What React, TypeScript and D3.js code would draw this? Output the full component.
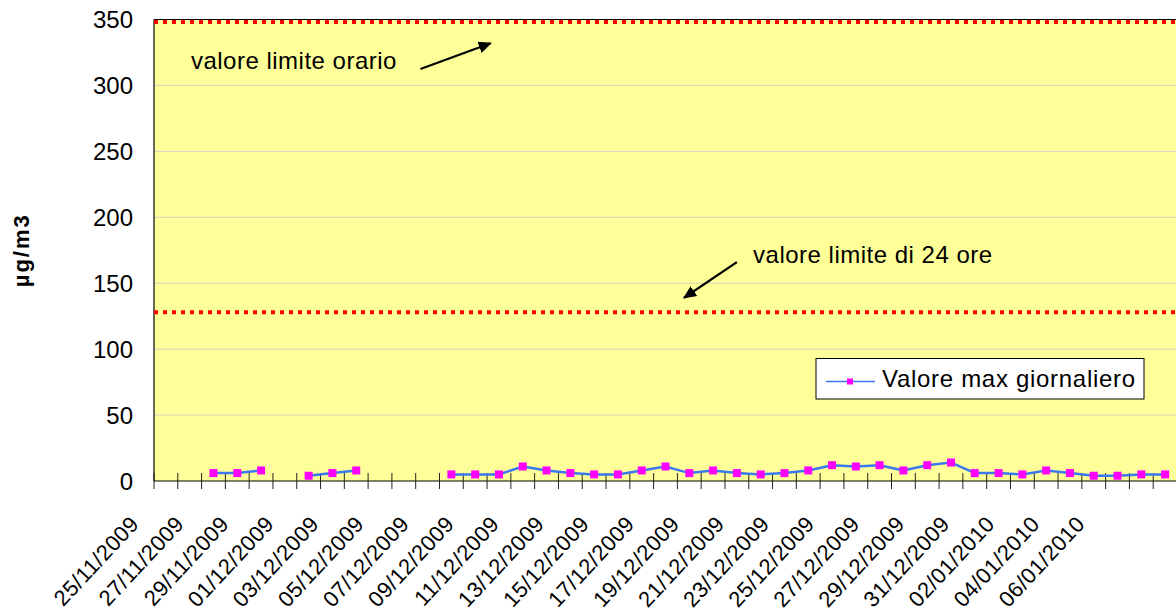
import React from 'react';
import * as d3 from 'd3';

const categories: string[] = [
  '25/11/2009', '26/11/2009', '27/11/2009', '28/11/2009', '29/11/2009', '30/11/2009',
  '01/12/2009', '02/12/2009', '03/12/2009', '04/12/2009', '05/12/2009', '06/12/2009',
  '07/12/2009', '08/12/2009', '09/12/2009', '10/12/2009', '11/12/2009', '12/12/2009',
  '13/12/2009', '14/12/2009', '15/12/2009', '16/12/2009', '17/12/2009', '18/12/2009',
  '19/12/2009', '20/12/2009', '21/12/2009', '22/12/2009', '23/12/2009', '24/12/2009',
  '25/12/2009', '26/12/2009', '27/12/2009', '28/12/2009', '29/12/2009', '30/12/2009',
  '31/12/2009', '01/01/2010', '02/01/2010', '03/01/2010', '04/01/2010', '05/01/2010',
  '06/01/2010',
];

const maxValues: (number | null)[] = [
  null, null, 6, 6, 8, null, 4, 6, 8, null, null, null,
  5, 5, 5, 11, 8, 6, 5, 5, 8, 11, 6, 8,
  6, 5, 6, 8, 12, 11, 12, 8, 12, 14, 6, 6,
  5, 8, 6, 4, 4, 5, 5,
];

const tickLabels: string[] = [
  '25/11/2009', '27/11/2009', '29/11/2009', '01/12/2009', '03/12/2009', '05/12/2009',
  '07/12/2009', '09/12/2009', '11/12/2009', '13/12/2009', '15/12/2009', '17/12/2009',
  '19/12/2009', '21/12/2009', '23/12/2009', '25/12/2009', '27/12/2009', '29/12/2009',
  '31/12/2009', '02/01/2010', '04/01/2010', '06/01/2010',
];

const yTicks: number[] = [0, 50, 100, 150, 200, 250, 300, 350];
const hourlyLimit = 350;
const dailyLimit = 128;
const seriesName = 'Valore max giornaliero';
const yTitle = 'µg/m3';

// annotations in data units (category index, value)
const annotations = [
  { text: 'valore limite orario', tx: 1.55, ty: 312.5, from: [11.2, 312.5], to: [14.15, 332] },
  { text: 'valore limite di 24 ore', tx: 25.18, ty: 165.3, from: [24.5, 166], to: [22.28, 139] },
];

const FONT = "'Liberation Sans', Arial, sans-serif";

export default function App() {
  const W = 1176;
  const H = 616;
  const left = 154;
  const right = 1177;
  const top = 19.5;
  const bottom = 481;

  const x = d3.scaleBand<string>().domain(categories).range([left, right]).padding(0);
  const xIdx = d3.scaleLinear().domain([0, categories.length]).range([left, right]);
  const y = d3.scaleLinear().domain([0, 350]).range([bottom, top]);
  const labelX = d3.scalePoint<string>().domain(tickLabels).range([140, 1086]);

  const pts = categories.map((c, i) => ({ c, v: maxValues[i] }));
  const line = d3
    .line<{ c: string; v: number | null }>()
    .defined((d) => d.v != null)
    .x((d) => (x(d.c) as number) + x.bandwidth() / 2)
    .y((d) => y(d.v as number));

  const boundaries = d3.range(categories.length + 1);

  return (
    <div style={{ position: 'absolute', left: 0, top: 0 }}>
      <svg width={W} height={H} style={{ display: 'block', background: '#ffffff' }}>
        <defs>
          <marker id="ah" viewBox="0 0 10 10" refX="9" refY="5" markerWidth="6" markerHeight="6" orient="auto" markerUnits="strokeWidth">
            <path d="M0,0.5 L10,5 L0,9.5 z" fill="#000" />
          </marker>
        </defs>
        {/* plot background */}
        <rect x={left} y={top} width={right - left} height={bottom - top} fill="#FFFF99" />
        {/* gridlines */}
        {yTicks.filter((t) => t > 0 && t < 350).map((t) => (
          <line key={t} x1={left} x2={right} y1={y(t)} y2={y(t)} stroke="#d2d2bc" strokeWidth={1} />
        ))}
        {/* plot border top & left */}
        <line x1={left} x2={right} y1={top} y2={top} stroke="#000" strokeWidth={1.2} />
        <line x1={left} x2={left} y1={top} y2={bottom} stroke="#000" strokeWidth={1.2} />
        {/* limit lines */}
        {[hourlyLimit, dailyLimit].map((v) => (
          <line key={v} x1={left} x2={right} y1={y(v) + (v === 350 ? 2.5 : 0)} y2={y(v) + (v === 350 ? 2.5 : 0)} stroke="#FF0000" strokeWidth={4} strokeDasharray="4 5" />
        ))}
        {/* x axis */}
        <line x1={left} x2={right} y1={bottom} y2={bottom} stroke="#000" strokeWidth={1.2} />
        {boundaries.map((i) => (
          <line key={i} x1={xIdx(i)} x2={xIdx(i)} y1={bottom - 8} y2={bottom + 8} stroke="#222" strokeWidth={1} />
        ))}
        {/* y tick labels */}
        {yTicks.map((t) => (
          <text key={t} x={133} y={y(t)} dy="0.36em" textAnchor="end" fontFamily={FONT} fontSize={24} fill="#000">
            {t}
          </text>
        ))}
        {/* y title */}
        <text transform={`translate(29,${(top + bottom) / 2}) rotate(-90)`} textAnchor="middle" fontFamily={FONT} fontSize={22} fontWeight="bold" letterSpacing={2} fill="#000">
          {yTitle}
        </text>
        {/* x tick labels */}
        {tickLabels.map((l) => (
          <text key={l} transform={`translate(${labelX(l)},525) rotate(-47)`} textAnchor="end" fontFamily={FONT} fontSize={22} letterSpacing={0.4} fill="#000">
            {l}
          </text>
        ))}
        {/* series */}
        <path d={line(pts) || ''} fill="none" stroke="#3c78f0" strokeWidth={2.5} />
        {pts.filter((d) => d.v != null).map((d) => (
          <rect key={d.c} x={(x(d.c) as number) + x.bandwidth() / 2 - 4} y={y(d.v as number) - 4} width={8} height={8} fill="#FF00FF" />
        ))}
        {/* annotations */}
        {annotations.map((a) => (
          <g key={a.text}>
            <text x={xIdx(a.tx)} y={y(a.ty)} fontFamily={FONT} fontSize={24} letterSpacing={0.5} fill="#000">
              {a.text}
            </text>
            <line x1={xIdx(a.from[0])} y1={y(a.from[1])} x2={xIdx(a.to[0])} y2={y(a.to[1])} stroke="#000" strokeWidth={2.2} markerEnd="url(#ah)" />
          </g>
        ))}
        {/* legend */}
        <g>
          <rect x={816} y={358.5} width={328} height={40.5} fill="#fff" stroke="#000" strokeWidth={1} />
          <line x1={826} x2={875} y1={381.5} y2={381.5} stroke="#3c78f0" strokeWidth={1.5} />
          <rect x={847} y={378.5} width={6} height={6} fill="#FF00FF" />
          <text x={882} y={386.5} fontFamily={FONT} fontSize={24} letterSpacing={0.7} fill="#000">
            {seriesName}
          </text>
        </g>
      </svg>
    </div>
  );
}
